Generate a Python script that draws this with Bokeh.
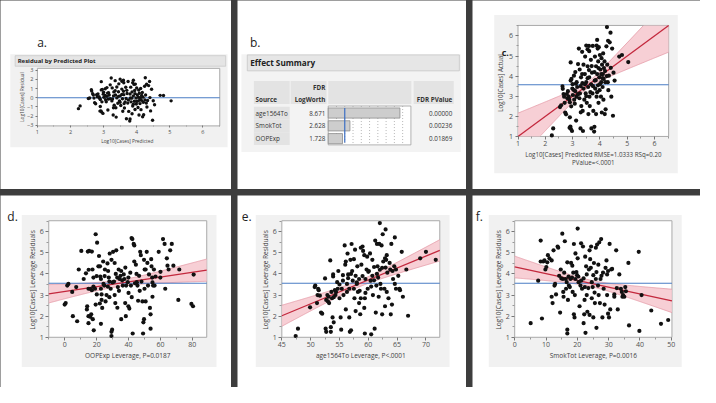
import numpy as np
from bokeh.plotting import figure
from bokeh.models import Range1d, LinearAxis, FixedTicker
from bokeh.layouts import row, column
from bokeh.embed import file_html
from bokeh.resources import INLINE
from bokeh.core.properties import value

FONT = "Open Sans"

# ---------------- data: panels a & c (predicted vs actual) ----------------
pred = [2.24, 2.29, 2.54, 2.58, 2.63, 2.64, 2.67, 2.69, 2.71, 2.73, 2.76,
        2.79, 2.81, 2.83, 2.86, 2.88, 2.90, 2.90, 2.92, 2.94, 2.98, 2.89, 2.93, 2.96, 2.93, 2.99, 3.01, 3.05, 3.06, 3.08, 3.10, 3.12, 3.14, 3.13, 3.17,
        3.23, 3.26, 3.27, 3.29, 3.31, 3.32, 3.35, 3.36, 3.37, 3.38, 3.40, 3.40, 3.43, 3.45, 3.46, 3.48, 3.50, 3.50, 3.52, 3.55, 3.55, 3.57, 3.58, 3.61, 3.61, 3.62, 3.63,
        3.67, 3.68, 3.69, 3.71, 3.73, 3.74, 3.76, 3.79, 3.80, 3.81, 3.82, 3.83, 3.86, 3.86, 3.88, 3.88, 3.90, 3.92, 3.93, 3.94, 3.95, 3.96, 3.98, 3.99, 4.00, 4.02, 4.04, 4.05, 4.06, 4.07, 4.08, 4.10, 4.11,
        4.12, 4.13, 4.14, 4.17, 4.18, 4.19, 4.21, 4.24, 4.26, 4.27, 4.29, 4.30, 4.31, 4.33, 4.36, 4.39, 4.40, 4.42, 4.45, 4.48, 4.50, 4.54,
        4.71, 4.81, 5.04,
        3.05, 3.15, 3.20, 3.25, 3.30, 3.35, 3.45, 3.50, 3.55, 3.60, 3.65, 3.70, 3.75, 3.80, 3.85, 3.90, 3.95, 4.00, 4.05, 4.10,
        4.15, 4.20, 4.25, 3.00, 3.10, 3.20, 2.95, 3.60, 3.90, 3.30]
actual = [1.05, 1.40, 2.46, 2.55, 3.49, 3.37, 3.11, 2.98, 2.67, 2.19, 2.10,
          3.11, 2.90, 3.25, 2.98, 2.83, 2.70, 1.95, 1.49, 1.37, 1.27, 1.43, 4.68, 3.86, 3.78, 3.38, 3.06, 4.02, 2.83, 2.63, 3.25, 3.62, 2.98, 1.79, 3.46,
          5.37, 4.33, 3.14, 1.40, 3.94, 2.51, 5.21, 3.65, 2.27, 1.27, 4.57, 3.38, 2.83, 4.10, 4.97, 3.14, 5.52, 3.70, 2.67, 5.33, 4.49, 3.46, 2.11, 5.24, 3.94, 2.98, 2.51,
          4.81, 3.59, 1.40, 4.17, 3.14, 5.50, 2.27, 1.24, 1.48, 3.78, 4.97, 3.38, 4.49, 2.11, 5.52, 2.98, 4.10, 5.37, 3.54, 4.73, 2.67, 5.44, 3.94, 3.30, 5.05, 4.33, 2.98, 3.70, 4.89, 2.19, 4.57, 3.46, 4.10,
          5.13, 2.83, 3.86, 4.73, 2.11, 4.25, 2.35, 5.48, 6.44, 4.57, 3.70, 5.76, 3.30, 4.02, 5.68, 6.16, 4.41, 2.98, 5.37, 2.03, 4.17, 3.78,
          4.97, 5.05, 4.70,
          3.30, 3.70, 3.10, 2.90, 3.50, 4.10, 3.60, 3.00, 3.90, 4.30, 3.20, 4.50, 3.50, 4.20, 3.80, 3.20, 4.40, 3.60, 4.10, 3.90,
          4.40, 3.70, 4.00, 3.60, 4.20, 4.60, 2.50, 5.50, 5.80, 2.20]
residual = [a - p for a, p in zip(actual, pred)]
mean_cases = 3.57

# ---------------- panel d: OOPExp leverage ----------------
oop_lev = [0.0, 0.6, 1.6, 2.3, 4.7, 5.1, 7.2, 7.8, 8.8, 10.4,
           11.9, 13.3, 13.9, 14.1, 14.5, 15.3, 17.0, 14.9, 16.0, 17.0,
           14.9, 16.0, 16.6, 17.6, 14.9, 18.2, 17.4, 18.0, 19.4, 20.3,
           19.0, 19.4, 20.1, 21.1, 21.5, 22.1, 22.3, 22.7, 22.7, 23.1,
           23.1, 23.5, 22.7, 24.1, 24.3, 24.8, 25.2, 25.6, 26.2, 26.8,
           27.2, 27.6, 28.0, 28.2, 28.8, 29.3, 29.3, 29.3, 29.7, 30.3,
           30.9, 31.3, 31.3, 31.7, 32.3, 32.9, 33.3, 33.8, 34.4, 35.0,
           35.4, 35.4, 35.8, 36.4, 37.0, 37.4, 37.9, 38.3, 38.5, 39.5,
           39.9, 39.9, 40.5, 41.1, 41.5, 41.9, 42.4, 42.6, 43.2, 43.6,
           43.6, 44.0, 44.6, 45.2, 45.6, 46.0, 46.6, 47.3, 47.7, 48.1,
           48.7, 49.1, 49.3, 49.7, 49.7, 50.1, 50.7, 50.7, 51.4, 51.8,
           52.2, 52.8, 53.4, 53.8, 53.8, 54.2, 54.4, 54.8, 55.0, 55.4,
           55.9, 56.3, 56.9, 58.9, 59.9, 61.6, 62.6, 63.0, 64.0, 64.4,
           65.1, 66.1, 67.1, 68.1, 71.2, 71.8, 79.4, 80.4, 80.8,
           25, 27, 30, 32, 34, 36, 38, 40, 28, 20, 18, 45, 50, 55, 33, 42, 47, 22, 60, 15]
oop_res = [2.55, 2.62, 3.45, 3.53, 3.15, 2.00, 3.38, 1.76, 4.21, 5.09,
           3.76, 4.03, 2.32, 2.47, 5.06, 5.09, 5.06, 3.30, 3.30, 3.23,
           2.00, 1.97, 2.09, 1.86, 1.67, 1.33, 4.21, 3.83, 5.88, 5.48,
           3.30, 2.55, 3.03, 4.36, 4.85, 4.36, 3.88, 3.76, 3.30, 3.03,
           2.77, 2.39, 1.64, 4.59, 3.53, 3.45, 4.21, 2.70, 3.00, 4.50,
           4.14, 3.83, 3.64, 4.97, 3.30, 4.67, 1.26, 1.06, 1.36, 5.05,
           3.64, 4.52, 3.00, 2.62, 5.12, 3.83, 3.38, 4.21, 3.76, 3.91,
           4.14, 1.86, 5.24, 3.45, 3.98, 3.76, 2.62, 2.00, 3.45, 3.61,
           3.83, 2.47, 2.36, 4.06, 3.45, 5.70, 5.65, 1.18, 5.42, 5.35,
           4.59, 3.56, 4.44, 3.61, 3.45, 2.73, 3.91, 5.05, 4.89, 3.64,
           2.70, 1.18, 1.71, 1.86, 4.67, 4.21, 4.21, 2.70, 5.05, 4.52,
           3.45, 3.98, 2.39, 2.09, 1.41, 4.70, 4.36, 3.83, 2.92, 3.45,
           4.21, 3.45, 3.88, 5.05, 3.83, 5.65, 5.42, 3.30, 4.74, 4.39,
           4.21, 5.12, 5.42, 4.39, 2.77, 4.21, 2.58, 2.47, 3.97,
           3.9, 3.4, 3.6, 4.0, 3.2, 3.7, 4.3, 3.1, 2.9, 3.9, 3.4, 4.0, 3.3, 3.6, 2.4, 2.9, 3.2, 2.6, 4.1, 4.2]

# ---------------- panel e: age1564To leverage ----------------
age_lev = [47.4, 47.8, 49.9, 50.7, 50.8, 51.1, 51.2, 51.3, 51.4, 51.6,
           51.8, 52.0, 52.5, 52.7, 52.9, 52.6, 52.7, 53.0, 53.1, 53.2,
           53.4, 53.5, 53.5, 53.6, 53.7, 53.8, 53.9, 53.9, 54.0, 54.2,
           54.3, 54.4, 54.6, 54.7, 54.8, 55.0, 55.2, 55.3, 55.4, 55.6,
           55.6, 55.7, 55.9, 56.0, 56.1, 56.1, 56.3, 56.3, 56.4, 56.5,
           56.7, 56.7, 56.8, 57.0, 56.9, 57.1, 57.2, 57.3, 57.5, 57.6,
           57.7, 57.8, 57.8, 58.0, 58.1, 58.2, 58.4, 58.4, 58.6, 58.7,
           58.8, 58.7, 59.0, 59.1, 59.3, 59.3, 59.4, 59.4, 59.5, 59.7,
           59.8, 59.9, 60.1, 60.3, 60.4, 60.5, 60.7, 60.7, 60.8, 61.0,
           61.1, 61.2, 61.3, 61.4, 61.5, 61.6, 61.7, 61.8, 61.9, 62.0,
           62.1, 62.2, 62.3, 62.4, 62.4, 62.5, 62.6, 62.8, 62.9, 62.9,
           63.0, 63.1, 63.2, 63.2, 63.3, 63.5, 63.7, 63.8, 63.9, 64.0,
           64.1, 64.2, 64.3, 64.5, 64.6, 64.6, 64.8, 64.8, 65.2, 65.4,
           65.5, 65.8, 66.0, 66.6, 66.9, 69.0, 70.0, 71.7,
           55.0, 56.5, 57.0, 58.0, 59.0, 60.0, 61.0, 62.0, 63.0, 58.5, 60.5, 54.0, 57.5, 61.5, 59.5]
age_res = [1.06, 1.41, 2.42, 3.38, 3.45, 2.62, 3.00, 3.30, 3.23, 2.97,
           2.17, 2.12, 3.79, 2.77, 3.00, 1.41, 1.26, 2.70, 2.92, 2.62,
           4.64, 1.26, 1.48, 3.15, 2.85, 1.94, 3.98, 3.88, 1.71, 3.23,
           3.00, 3.15, 3.61, 3.30, 4.14, 2.85, 1.94, 1.36, 3.30, 3.68,
           3.94, 3.00, 5.35, 4.44, 4.59, 2.32, 3.15, 3.53, 4.97, 3.98,
           3.30, 1.94, 1.26, 1.33, 4.67, 5.42, 4.14, 3.68, 3.30, 2.85,
           5.15, 2.24, 3.91, 3.53, 4.36, 3.15, 3.76, 2.62, 2.09, 2.85,
           4.44, 5.24, 5.30, 5.09, 4.89, 2.39, 1.18, 2.85, 3.76, 4.21,
           4.82, 3.30, 4.14, 4.97, 3.68, 1.14, 4.67, 3.91, 3.00, 4.33,
           1.41, 5.58, 2.17, 3.45, 5.42, 4.36, 3.83, 2.92, 5.42, 6.41,
           3.53, 3.30, 5.35, 2.09, 4.29, 5.88, 4.59, 3.30, 4.74, 2.47,
           6.11, 4.67, 4.89, 3.15, 4.06, 2.85, 4.52, 4.21, 2.09, 5.42,
           2.55, 4.14, 3.76, 4.36, 5.73, 3.53, 3.30, 4.21, 3.91, 3.30,
           3.23, 5.05, 2.92, 4.21, 2.02, 4.74, 5.05, 4.67,
           3.5, 3.8, 4.0, 3.6, 3.9, 4.1, 3.7, 4.2, 4.3, 3.2, 3.4, 2.9, 4.7, 4.0, 3.1]

# ---------------- panel f: SmokTot leverage ----------------
smok_lev = [5.1, 7.5, 8.3, 8.7, 8.3, 9.1, 9.5, 9.8, 10.1, 10.4,
            10.6, 11.1, 11.8, 11.8, 12.1, 12.4, 12.7, 12.9, 13.2, 13.7,
            13.9, 14.2, 14.7, 14.5, 14.9, 15.2, 15.4, 15.5, 15.6, 15.8,
            16.0, 16.3, 16.4, 16.6, 16.8, 16.8, 16.8, 17.0, 17.2, 17.3,
            17.6, 17.8, 18.0, 18.3, 18.4, 18.5, 18.7, 18.9, 18.9, 19.1,
            19.2, 19.4, 19.4, 19.7, 19.9, 20.1, 20.1, 20.3, 20.4, 20.7,
            21.0, 21.2, 21.2, 21.5, 21.8, 22.0, 22.0, 22.2, 22.3, 22.4,
            22.5, 22.6, 22.8, 23.0, 23.0, 23.2, 23.5, 23.7, 23.9, 23.9,
            24.1, 24.3, 24.4, 24.6, 24.6, 24.9, 25.1, 25.1, 25.3, 25.5,
            25.6, 25.9, 25.9, 26.1, 26.1, 26.3, 26.6, 26.7, 26.8, 27.0,
            27.2, 27.4, 27.6, 27.7, 28.0, 28.2, 28.4, 28.7, 29.0, 29.3,
            29.5, 29.5, 29.8, 29.8, 30.1, 30.3, 30.5, 30.8, 31.1, 31.8,
            31.8, 32.4, 32.6, 32.9, 33.4, 33.9, 34.2, 34.4, 34.6, 35.0,
            35.3, 35.5, 36.3, 36.5, 39.6, 39.8, 40.5, 43.6, 46.7, 49.0]
smok_res = [1.67, 3.68, 5.58, 1.89, 4.59, 4.59, 4.64, 4.21, 4.33, 4.55,
            4.89, 4.74, 4.64, 2.92, 2.62, 5.12, 3.45, 3.53, 3.03, 5.30,
            5.24, 3.91, 4.21, 2.17, 3.79, 5.91, 3.76, 3.15, 2.92, 4.06,
            5.55, 3.76, 3.30, 3.61, 4.55, 1.36, 1.18, 2.77, 3.88, 3.45,
            3.38, 3.76, 4.52, 3.83, 4.39, 3.15, 4.06, 5.42, 2.09, 1.94,
            3.00, 4.97, 3.76, 4.09, 3.94, 6.15, 4.74, 3.88, 3.61, 2.47,
            3.45, 5.45, 3.68, 3.30, 5.30, 1.67, 3.79, 2.09, 2.77, 3.38,
            4.82, 1.21, 4.36, 3.98, 3.00, 2.21, 3.33, 4.21, 5.12, 2.06,
            4.70, 4.29, 5.30, 3.61, 2.85, 3.38, 3.94, 1.94, 4.52, 3.12,
            2.62, 5.24, 3.76, 4.09, 1.45, 5.39, 3.45, 4.44, 3.00, 5.50,
            2.62, 3.76, 5.65, 3.91, 1.94, 4.06, 3.30, 2.55, 4.29, 4.64,
            3.00, 3.98, 4.14, 2.12, 1.94, 5.42, 2.32, 4.21, 4.24, 3.03,
            2.92, 5.12, 3.33, 2.32, 3.98, 3.30, 3.15, 2.92, 3.00, 2.92,
            3.38, 3.18, 4.52, 1.56, 5.05, 1.30, 3.00, 2.27, 1.64, 1.82]

# fit lines with confidence curves: (slope, intercept, x mean, a, b)
fit_c = (1.0, 0.0, 3.57, 0.0225, 0.200)
fit_d = (0.01131, 3.173, 34.2, 0.0225, 8.5e-5)
fit_e = (0.1131, -3.07, 58.6, 0.0225, 0.00122)
fit_f = (-0.032, 4.33, 24.1, 0.0225, 4.17e-4)

# ---------------- panel b: effect summary ----------------
sources = ["age1564To", "SmokTot", "OOPExp"]
logworth = [8.671, 2.628, 1.728]
fdr_pvalue = [0.00000, 0.00236, 0.01869]
logworth_ref = [2]
logworth_grid = [1, 2, 3, 4, 5, 6, 7, 8, 9]
logworth_max = 10

BLUE = "#4a7cc4"
RED = "#c3283d"
BAND = "#f6c7ce"
BAND_EDGE = "#e59ba7"
BOX = "#f1f1f1"
FRAME_LINE = "#a9a9a9"
TXT = "#333333"
LAB = "#404040"


def base_fig(w, h, xr, yr):
    p = figure(width=w, height=h, x_range=xr, y_range=yr, title=None,
               x_axis_location=None, y_axis_location=None,
               toolbar_location=None, tools="", output_backend="svg", min_border=0)
    p.outline_line_color = None
    p.background_fill_color = "white"
    p.border_fill_color = "white"
    p.grid.visible = False
    return p


def scatter_cell(w, h, RW, RH, box, frame, xr, yr):
    L, T, R, B = frame
    x0, x1 = xr
    y0, y1 = yr
    kx = (x1 - x0) / (R - L)
    ky = (y1 - y0) / (B - T)
    p = base_fig(w, h, Range1d(x0 - L * kx, x1 + (RW - R) * kx),
                 Range1d(y0 - (RH - B) * ky, y1 + T * ky))
    p.extra_x_ranges = {"px": Range1d(0, RW)}
    p.extra_y_ranges = {"px": Range1d(RH, 0)}
    bl, bt, br, bb = box
    p.quad(left=[bl], right=[br], top=[bt], bottom=[bb], x_range_name="px", y_range_name="px",
           fill_color=BOX, line_color=None)
    p.quad(left=[x0], right=[x1], bottom=[y0], top=[y1], fill_color="white",
           line_color=FRAME_LINE, line_width=1)
    return p


def add_axes(p, xr, yr, xticks, xminor, yticks, yminor, fs_tick, tick_out=3):
    for side, loc, bounds, ticks, minor in (
            ("below", yr[0], xr, xticks, xminor),
            ("left", xr[0], yr, yticks, yminor)):
        ax = LinearAxis(fixed_location=loc, bounds=bounds,
                        ticker=FixedTicker(ticks=ticks, minor_ticks=minor))
        ax.axis_line_color = None
        ax.major_tick_line_color = "#777777"
        ax.minor_tick_line_color = "#999999"
        ax.major_tick_out = tick_out
        ax.major_tick_in = 0
        ax.minor_tick_out = max(1, tick_out - 1)
        ax.minor_tick_in = 0
        ax.major_label_text_font = FONT
        ax.major_label_text_font_size = fs_tick
        ax.major_label_text_color = "#505050"
        ax.major_label_standoff = 2
        p.add_layout(ax, side)


def axis_titles(p, xlab_lines, xlab_x, xlab_y, ylab, ylab_x, ylab_y, fs, line_gap=8.4):
    p.text(x=[xlab_x] * len(xlab_lines), y=[xlab_y + line_gap * i for i in range(len(xlab_lines))],
           text=xlab_lines, x_range_name="px", y_range_name="px",
           text_font=value(FONT), text_font_size=fs, text_color=LAB,
           text_align="center", text_baseline="middle")
    p.text(x=[ylab_x], y=[ylab_y], text=[ylab], angle=np.pi / 2,
           x_range_name="px", y_range_name="px",
           text_font=value(FONT), text_font_size=fs, text_color=LAB,
           text_align="center", text_baseline="middle")


def add_fit(p, xr, yr, fit):
    slope, intercept, xbar, a, b = fit
    xs = np.linspace(xr[0], xr[1], 160)
    yf = intercept + slope * xs
    h = np.sqrt(a + b * (xs - xbar) ** 2)
    up, lo = yf + h, yf - h
    p.patch(np.concatenate([xs, xs[::-1]]),
            np.concatenate([np.clip(up, *yr), np.clip(lo, *yr)[::-1]]),
            fill_color=BAND, fill_alpha=0.85, line_color=None)
    p.line(xs, np.where(up <= yr[1], up, np.nan), line_color=BAND_EDGE, line_width=0.8)
    p.line(xs, np.where(lo >= yr[0], lo, np.nan), line_color=BAND_EDGE, line_width=0.8)


def letter(p, x, y, t, size="12px", style="normal"):
    p.text(x=[x], y=[y], text=[t], x_range_name="px", y_range_name="px",
           text_font=value(FONT), text_font_size=size, text_font_style=style,
           text_color="#222222", text_baseline="alphabetic", text_align="left")


# ================= panel a =================
xr_a, yr_a = (1, 6.51), (-3.07, 3.2)
pa = scatter_cell(231, 189, 236, 197, (10, 56, 232, 153), (37.7, 70.7, 224, 130.7), xr_a, yr_a)
pa.quad(left=[15], right=[230], top=[57.5], bottom=[68.5], x_range_name="px", y_range_name="px",
        fill_color="#e5e5e5", line_color="#c9c9c9", line_width=0.8)
pa.text(x=[17.5], y=[63.2], text=["Residual by Predicted Plot"], x_range_name="px", y_range_name="px",
        text_font=value(FONT), text_font_size="6px", text_font_style="bold",
        text_color="#222222", text_baseline="middle")
letter(pa, 37.5, 43.3, "a.")
pa.line([xr_a[0], xr_a[1]], [0, 0], line_color=BLUE, line_width=1.1)
pa.scatter(pred, residual, size=3.4, fill_color="#111111", line_color=None)
add_axes(pa, xr_a, yr_a, [1, 2, 3, 4, 5, 6], [1.5, 2.5, 3.5, 4.5, 5.5, 6.5],
         [-3, -2, -1, 0, 1, 2, 3], [], "5.5px", tick_out=2)
axis_titles(pa, ["Log10[Cases] Predicted"], 129.5, 146.5, "Log10[Cases] Residual", 22, 100.7, "4.8px")

# ================= panel b =================
RWb, RHb = 234, 197
pb = base_fig(229, 189, Range1d(0, RWb), Range1d(RHb, 0))
lw0, lw_px = 92.7, 8.45
pb.extra_x_ranges = {"lw": Range1d(-lw0 / lw_px, (RWb - lw0) / lw_px)}
pb.quad(left=[4], right=[228], top=[56], bottom=[158], fill_color="#f3f3f3", line_color=None)
pb.quad(left=[10], right=[226.7], top=[56.7], bottom=[73.3], fill_color="#e6e6e6",
        line_color="#c6c6c6", line_width=0.8)
pb.text(x=[13], y=[65], text=["Effect Summary"], text_font=value(FONT), text_font_size="8.2px",
        text_font_style="bold", text_color="#222222", text_baseline="middle")
pb.text(x=[12.7], y=[43.3], text=["b."], text_font=value(FONT), text_font_size="12px",
        text_color="#222222", text_baseline="alphabetic")
pb.quad(left=[16.7, 54.3, 92.7, 180], right=[53.3, 91, 177.7, 221], top=[84] * 4, bottom=[108] * 4,
        fill_color="#e3e3e3", line_color=None)
row_y = [117.3 + 13.35 * i for i in range(len(sources))]
pb.rect(x=[35] * len(sources), y=row_y, width=36.6, height=13.35, fill_color="#e3e3e3", line_color=None)
pb.quad(left=[0], right=[logworth_max], top=[110], bottom=[150.5], x_range_name="lw",
        fill_color="white", line_color="#a0a0a0", line_width=0.8)
pb.segment(x0=logworth_grid, x1=logworth_grid, y0=[110] * 9, y1=[150.5] * 9, x_range_name="lw",
           line_color="#a5a5a5", line_dash="1 2", line_width=0.8)
pb.hbar(y=row_y, left=0, right=logworth, height=10.6, x_range_name="lw",
        fill_color="#cdcdcd", line_color="#8d8d8d", line_width=0.8)
pb.segment(x0=logworth_ref, x1=logworth_ref, y0=[112], y1=[148], x_range_name="lw",
           line_color="#3c6fc3", line_width=1.2)
hdr = dict(text_font=value(FONT), text_font_size="6.3px", text_font_style="bold",
           text_color=TXT, text_baseline="middle")
pb.text(x=[89.8], y=[90.5], text=["FDR"], text_align="right", **hdr)
pb.text(x=[89.8, 219.5], y=[103.5, 103.5], text=["LogWorth", "FDR PValue"], text_align="right", **hdr)
pb.text(x=[18.5], y=[103.5], text=["Source"], text_align="left", **hdr)
cell = dict(text_font=value(FONT), text_font_size="6.3px", text_color=TXT, text_baseline="middle")
pb.text(x=[18.5] * 3, y=row_y, text=sources, text_align="left", **cell)
pb.text(x=[89.8] * 3, y=row_y, text=[f"{v:.3f}" for v in logworth], text_align="right", **cell)
pb.text(x=[219.5] * 3, y=row_y, text=[f"{v:.5f}" for v in fdr_pvalue], text_align="right", **cell)

# ================= panel c =================
xr_c, yr_c = (1, 6.52), (1, 6.52)
pc = scatter_cell(228, 189, 234, 197, (22.3, 15, 210.7, 180), (46.7, 26, 201.3, 141.7), xr_c, yr_c)
letter(pc, 30, 54, "c.", size="9px", style="bold")
add_fit(pc, xr_c, yr_c, fit_c)
pc.line([xr_c[0], xr_c[1]], [mean_cases, mean_cases], line_color=BLUE, line_width=1.2)
pc.line([xr_c[0], xr_c[1]], [fit_c[1] + fit_c[0] * xr_c[0], fit_c[1] + fit_c[0] * xr_c[1]],
        line_color=RED, line_width=1.3)
pc.scatter(pred, actual, size=4.2, fill_color="#111111", line_color=None)
add_axes(pc, xr_c, yr_c, [1, 2, 3, 4, 5, 6], [1.5, 2.5, 3.5, 4.5, 5.5, 6.5],
         [1, 2, 3, 4, 5, 6], [1.5, 2.5, 3.5, 4.5, 5.5, 6.5], "7px")
axis_titles(pc, ["Log10[Cases] Predicted RMSE=1.0333 RSq=0.20", "PValue=<.0001"], 124, 160,
            "Log10[Cases] Actual", 28.5, 86, "6.2px")


# ================= panels d, e, f =================
def leverage_cell(w, RW, box, frame, xr, xs_data, ys_data, fit, xticks, xminor, xlabel, let, let_x, ylab_x):
    yr = (1, 6.52)
    p = scatter_cell(w, 192, RW, 200, box, frame, xr, yr)
    letter(p, let_x, 22, let)
    add_fit(p, xr, yr, fit)
    p.line([xr[0], xr[1]], [mean_cases - 0.01, mean_cases - 0.01], line_color=BLUE, line_width=1.2)
    p.line([xr[0], xr[1]], [fit[1] + fit[0] * xr[0], fit[1] + fit[0] * xr[1]],
           line_color=RED, line_width=1.3)
    p.scatter(xs_data, ys_data, size=4.2, fill_color="#111111", line_color=None)
    add_axes(p, xr, yr, xticks, xminor, [1, 2, 3, 4, 5, 6], [1.5, 2.5, 3.5, 4.5, 5.5, 6.5], "7px")
    cx = (frame[0] + frame[2]) / 2
    axis_titles(p, [xlabel], cx, 167, "Log10[Cases] Leverage Residuals", ylab_x, 88, "6.5px")
    return p


pd_ = leverage_cell(231, 236, (21.7, 20.3, 220.7, 178.7), (49.3, 26.3, 210.7, 147.7), (-10, 89),
                    oop_lev, oop_res, fit_d, [0, 20, 40, 60, 80], [-10, 10, 30, 50, 70],
                    "OOPExp Leverage, P=0.0187", "d.", 7, 32.3)
pe = leverage_cell(229, 234, (18.7, 20.3, 216.7, 178.7), (45.3, 26.3, 206.7, 147.7), (45, 72.4),
                   age_lev, age_res, fit_e, [45, 50, 55, 60, 65, 70], [47.5, 52.5, 57.5, 62.5, 67.5],
                   "age1564To Leverage, P<.0001", "e.", 4.3, 28.3)
pf = leverage_cell(228, 234, (16.7, 20.3, 214.7, 178.7), (43.3, 26.3, 204.7, 147.7), (0, 50.2),
                   smok_lev, smok_res, fit_f, [0, 10, 20, 30, 40, 50], [5, 15, 25, 35, 45],
                   "SmokTot Leverage, P=0.0016", "f.", 3.3, 26.3)

top = row(pa, pb, pc, spacing=6)
bottom = row(pd_, pe, pf, spacing=6)
root = column(top, bottom, spacing=6, styles={"background-color": "#3d3d3d"})

open("out.html", "w").write(file_html(root, INLINE))
